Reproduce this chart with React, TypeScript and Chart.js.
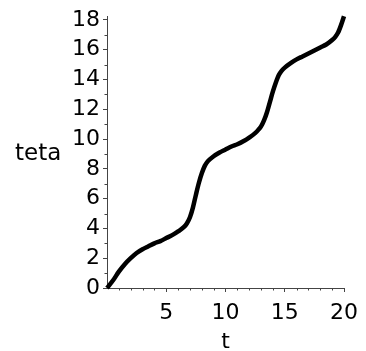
import React, { useEffect, useRef } from "react";
import { Chart, registerables } from "chart.js";

Chart.register(...registerables);

// Angle teta as a function of time t
const tValues = [
  0, 0.5, 1, 1.5, 2, 2.5, 3, 3.5, 4, 4.5, 5, 5.5, 6, 6.5, 6.75, 7, 7.25, 7.5, 7.75,
  8, 8.25, 8.5, 9, 9.5, 10, 10.5, 11, 11.5, 12, 12.5, 12.75, 13, 13.25, 13.5, 13.75,
  14, 14.25, 14.5, 14.75, 15, 15.5, 16, 16.5, 17, 17.5, 18, 18.5, 19, 19.25, 19.5,
  19.75, 20,
];
const tetaValues = [
  0, 0.5, 1.1, 1.6, 2.0, 2.35, 2.6, 2.8, 3.0, 3.15, 3.35, 3.55, 3.8, 4.1, 4.35, 4.75,
  5.4, 6.25, 7.05, 7.7, 8.2, 8.5, 8.85, 9.1, 9.3, 9.5, 9.65, 9.85, 10.1, 10.4, 10.6,
  10.85, 11.25, 11.8, 12.5, 13.2, 13.8, 14.3, 14.6, 14.8, 15.1, 15.35, 15.55, 15.75,
  15.95, 16.15, 16.35, 16.65, 16.85, 17.15, 17.65, 18.25,
];

const xMajorTicks = [5, 10, 15, 20];
const yMajorTicks = [0, 2, 4, 6, 8, 10, 12, 14, 16, 18];
const xMinorTicks = [1, 2, 3, 4, 6, 7, 8, 9, 11, 12, 13, 14, 16, 17, 18, 19];
const yMinorTicks = [1, 3, 5, 7, 9, 11, 13, 15, 17];

const xTitle = "t";
const yTitle = "teta";

const FONT = "DejaVu Sans";
const AXIS_COLOR = "#444";

// Short unlabeled ticks plus the horizontal axis titles
const extrasPlugin = {
  id: "axisExtras",
  afterDraw(chart: any) {
    const { ctx, chartArea, scales } = chart;
    const xs = scales.x;
    const ys = scales.y;
    ctx.save();
    ctx.strokeStyle = AXIS_COLOR;
    ctx.lineWidth = 1;
    ctx.beginPath();
    for (const v of xMinorTicks) {
      const px = Math.round(xs.getPixelForValue(v)) + 0.5;
      ctx.moveTo(px, chartArea.bottom);
      ctx.lineTo(px, chartArea.bottom + 2.5);
    }
    for (const v of yMinorTicks) {
      const py = Math.round(ys.getPixelForValue(v)) + 0.5;
      ctx.moveTo(chartArea.left, py);
      ctx.lineTo(chartArea.left - 2.5, py);
    }
    ctx.stroke();

    ctx.fillStyle = "#000";
    ctx.font = `22px "${FONT}"`;
    ctx.textAlign = "center";
    ctx.textBaseline = "middle";
    ctx.fillText(xTitle, (chartArea.left + chartArea.right) / 2, 342);
    ctx.font = `23px "${FONT}"`;
    ctx.textAlign = "left";
    ctx.fillText(yTitle, 15, (chartArea.top + chartArea.bottom) / 2 + 2);
    ctx.restore();
  },
};

export default function App() {
  const canvasRef = useRef<HTMLCanvasElement | null>(null);

  useEffect(() => {
    if (!canvasRef.current) return;
    const chart = new Chart(canvasRef.current, {
      type: "line",
      data: {
        datasets: [
          {
            data: tValues.map((t, i) => ({ x: t, y: tetaValues[i] })),
            borderColor: "#000",
            borderWidth: 4.5,
            borderCapStyle: "butt",
            borderJoinStyle: "round",
            pointRadius: 0,
            cubicInterpolationMode: "monotone",
            fill: false,
            clip: false as any,
          },
        ],
      },
      options: {
        animation: false,
        responsive: true,
        maintainAspectRatio: false,
        layout: { padding: { left: 0, right: 21, top: 14, bottom: 0 } },
        plugins: {
          legend: { display: false },
          tooltip: { enabled: false },
        },
        scales: {
          x: {
            type: "linear",
            min: 0,
            max: 20,
            afterBuildTicks: (scale: any) => {
              scale.ticks = xMajorTicks.map((v) => ({ value: v }));
            },
            afterFit: (scale: any) => {
              scale.height = 63;
            },
            grid: {
              drawOnChartArea: false,
              drawTicks: true,
              tickLength: 4,
              color: AXIS_COLOR,
            },
            border: { display: true, color: AXIS_COLOR, width: 1 },
            ticks: {
              color: "#000",
              padding: 8,
              maxRotation: 0,
              font: { family: FONT, size: 22 },
            },
          },
          y: {
            type: "linear",
            min: 0,
            max: 18.25,
            afterBuildTicks: (scale: any) => {
              scale.ticks = yMajorTicks.map((v) => ({ value: v }));
            },
            afterFit: (scale: any) => {
              scale.width = 107;
            },
            grid: {
              drawOnChartArea: false,
              drawTicks: true,
              tickLength: 4,
              color: AXIS_COLOR,
            },
            border: { display: true, color: AXIS_COLOR, width: 1 },
            ticks: {
              color: "#000",
              padding: 3,
              font: { family: FONT, size: 22 },
            },
          },
        },
      },
      plugins: [extrasPlugin],
    });
    return () => chart.destroy();
  }, []);

  return (
    <div style={{ position: "fixed", left: 0, top: 0, width: 366, height: 351, background: "#fff" }}>
      <canvas ref={canvasRef} />
    </div>
  );
}
